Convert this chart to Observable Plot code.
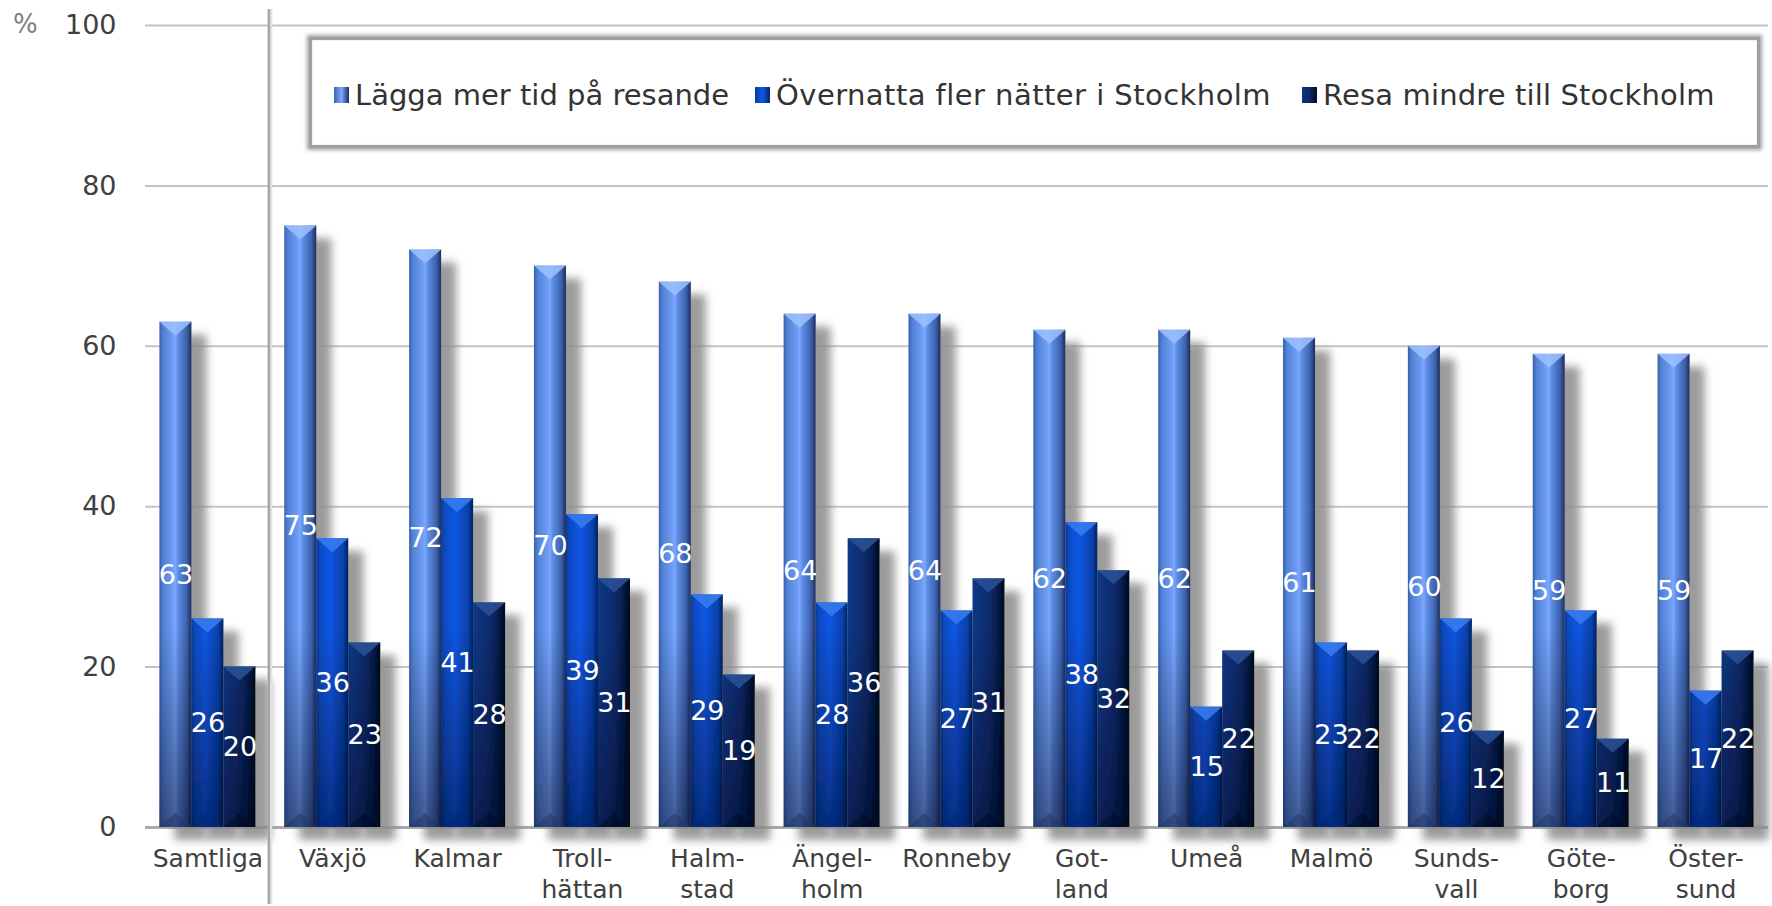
<!DOCTYPE html>
<html><head><meta charset="utf-8">
<script src="https://cdn.jsdelivr.net/npm/d3@7"></script>
<script src="https://cdn.jsdelivr.net/npm/@observablehq/plot@0.6"></script>
<style>
html,body{margin:0;padding:0;background:#fff;}
#wrap{position:relative;width:1772px;height:906px;overflow:hidden;font-family:"DejaVu Sans",Verdana,sans-serif;}
#chart{position:absolute;left:0;top:0;}
#legend{position:absolute;left:309px;top:37px;width:1451px;height:111px;box-sizing:border-box;background:#fff;border:3px solid #a0a0a0;box-shadow:0 0 4px 2px rgba(0,0,0,0.38), inset 0 0 2px rgba(0,0,0,0.2);}
.item{position:absolute;top:55px;transform:translateY(-50%);display:flex;align-items:center;font-size:29px;color:#333;white-space:nowrap;}
.sw{width:15px;height:16px;margin-right:6px;}
</style></head>
<body>
<div id="wrap"><div id="chart"></div><div id="legend"></div></div>
<script>
// ---- data ----
const categories = ["Samtliga","Växjö","Kalmar","Trollhättan","Halmstad","Ängelholm","Ronneby","Gotland","Umeå","Malmö","Sundsvall","Göteborg","Östersund"];
const tickLabels = ["Samtliga","Växjö","Kalmar","Troll-\nhättan","Halm-\nstad","Ängel-\nholm","Ronneby","Got-\nland","Umeå","Malmö","Sunds-\nvall","Göte-\nborg","Öster-\nsund"];
const seriesNames = ["Lägga mer tid på resande","Övernatta fler nätter i Stockholm","Resa mindre till Stockholm"];
const laggaMerTid = [63,75,72,70,68,64,64,62,62,61,60,59,59];
const overnattaFler = [26,36,41,39,29,28,27,38,15,23,26,27,17];
const resaMindre = [20,23,28,31,19,36,31,32,22,22,12,11,22];
const yTicks = [0,20,40,60,80,100];

const seriesValues = [laggaMerTid, overnattaFler, resaMindre];
const gradIds = ["g0","g1","g2"];
const swatchCss = [
  "linear-gradient(90deg,#3d64ad,#79a8ff 50%,#1b2f5f)",
  "linear-gradient(90deg,#0a3c9e,#0b58e6 50%,#03246a)",
  "linear-gradient(90deg,#0d3580,#0a2a6a 50%,#010a20)"
];
const legendLeft = [22, 443, 990];
const legendSpacing = ["0px", "0.45px", "0.15px"];

const rowsBy = seriesValues.map(vals => categories.map((c,i)=>({cat:c, v:vals[i], label:tickLabels[i]})));

const BW = 32; // bar width in px
const offs = [-BW, 0, BW];

const marks = [
  Plot.ruleY(yTicks.filter(d=>d>0), {stroke:"#c4c4c4", strokeWidth:2}),
  Plot.ruleY([0], {stroke:"#a9a9a9", strokeWidth:3}),
];
seriesValues.forEach((_,k)=>{
  marks.push(Plot.barY(rowsBy[k], {x:"cat", y:"v", fill:`url(#${gradIds[k]})`, insetLeft:46.4, insetRight:46.4, dx:offs[k]}));
});
seriesValues.forEach((_,k)=>{
  marks.push(Plot.text(rowsBy[k], {x:"cat", y:d=>d.v/2, text:d=>String(d.v), dx:offs[k], fill:"white", fontSize:27, fontFamily:"DejaVu Sans, Verdana, sans-serif"}));
});
marks.push(Plot.axisX({tickSize:0, tickPadding:18, fontSize:25, lineHeight:1.22, fill:"#404040", label:null, tickFormat:d=>tickLabels[categories.indexOf(d)]}));
marks.push(Plot.axisY({ticks:yTicks, tickSize:0, tickPadding:29, fontSize:27, fill:"#404040", label:null}));

const plot = Plot.plot({
  width:1772, height:906,
  marginLeft:145, marginRight:4, marginTop:25, marginBottom:79,
  x:{type:"band", domain:categories, padding:0, round:false},
  y:{domain:[0,100]},
  style:{fontFamily:"DejaVu Sans, Verdana, sans-serif", background:"transparent", overflow:"visible"},
  marks
});
document.getElementById("chart").appendChild(plot);

// ---- defs: gradients and shadow ----
const svg = d3.select(plot);
const defs = svg.insert("defs", ":first-child");
const gradStops = [
  [[0,"#3a60a8"],[0.12,"#5282d6"],[0.42,"#6e9cf4"],[0.5,"#7aa8ff"],[0.58,"#5f8de6"],[0.85,"#3d62ad"],[1,"#1a2d5c"]],
  [[0,"#0a3a98"],[0.14,"#0a4cc6"],[0.45,"#0b57e4"],[0.55,"#0a4fd4"],[0.85,"#0740a8"],[1,"#03215f"]],
  [[0,"#0f3885"],[0.3,"#0c3179"],[0.55,"#0a2a68"],[0.8,"#061b48"],[1,"#010818"]]
];
gradStops.forEach((st,k)=>{
  const g = defs.append("linearGradient").attr("id",gradIds[k]).attr("x1",0).attr("x2",1).attr("y1",0).attr("y2",0);
  st.forEach(([o,c])=>g.append("stop").attr("offset",o).attr("stop-color",c));
});
const yScale = plot.scale("y");
const vs = defs.append("linearGradient").attr("id","vshade").attr("gradientUnits","userSpaceOnUse")
  .attr("x1",0).attr("x2",0).attr("y1",yScale.apply(25)).attr("y2",yScale.apply(0));
vs.append("stop").attr("offset",0).attr("stop-color","#000014").attr("stop-opacity",0);
vs.append("stop").attr("offset",1).attr("stop-color","#000014").attr("stop-opacity",0.45);
const f = defs.append("filter").attr("id","shadow").attr("x","-5%").attr("y","-5%").attr("width","115%").attr("height","115%");
f.append("feGaussianBlur").attr("in","SourceAlpha").attr("stdDeviation",4);
f.append("feOffset").attr("dx",15).attr("dy",13).attr("result","off");
f.append("feFlood").attr("flood-color","#8a8a8a").attr("flood-opacity",0.85);
f.append("feComposite").attr("in2","off").attr("operator","in").attr("result","sh");
const fm = f.append("feMerge"); fm.append("feMergeNode").attr("in","sh"); fm.append("feMergeNode").attr("in","SourceGraphic");

const topCol = ["#9cc0ff","#3a7cf0","#2c5296"];
const botCol = ["#1d3566","#062a78","#000a22"];
svg.selectAll('g[aria-label="bar"]').each(function(_,k){
  const g = d3.select(this);
  g.attr("filter","url(#shadow)");
  g.selectAll("rect").each(function(){
    const r = d3.select(this);
    const x=+r.attr("x"), y=+r.attr("y"), w=+r.attr("width"), h=+r.attr("height");
    g.append("rect").attr("x",x).attr("y",y).attr("width",w).attr("height",h).attr("fill","url(#vshade)");
    const t = Math.min(14, h/2);
    g.append("polygon").attr("points",`${x},${y} ${x+w},${y} ${x+w/2},${y+t}`).attr("fill",topCol[k]).attr("opacity",0.85);
    g.append("polygon").attr("points",`${x},${y+h} ${x+w},${y+h} ${x+w/2},${y+h-t}`).attr("fill",botCol[k]).attr("opacity",0.5);
  });
});

// separator between "Samtliga" and the rest
const xScale = plot.scale("x");
const sx = xScale.apply(categories[1]) - 1;
svg.append("line").attr("x1",sx+2).attr("x2",sx+2).attr("y1",9).attr("y2",904).attr("stroke","#e2e2e2").attr("stroke-width",3);
svg.append("line").attr("x1",sx).attr("x2",sx).attr("y1",9).attr("y2",904).attr("stroke","#a6a6a6").attr("stroke-width",2.5);
// unit label
svg.append("text").attr("x",13).attr("y",yScale.apply(100)).attr("dy","0.32em").attr("text-anchor","start").attr("font-size",26).attr("fill","#808080").text("%");

// ---- legend ----
const leg = document.getElementById("legend");
seriesNames.forEach((n,k)=>{
  const it = document.createElement("div"); it.className="item"; it.style.left = legendLeft[k]+"px";
  const sw = document.createElement("div"); sw.className="sw"; sw.style.background = swatchCss[k];
  const tx = document.createElement("span"); tx.textContent = n; tx.style.letterSpacing = legendSpacing[k];
  it.appendChild(sw); it.appendChild(tx); leg.appendChild(it);
});
</script>
</body></html>
